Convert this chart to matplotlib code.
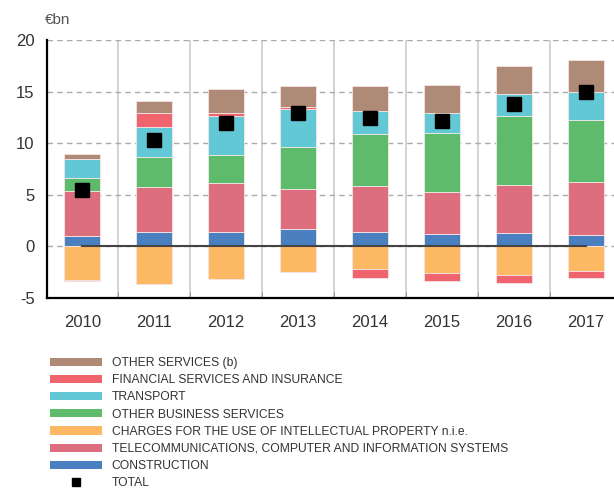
import numpy as np
import matplotlib
matplotlib.use("Agg")
import matplotlib.pyplot as plt
from matplotlib.patches import Patch
from matplotlib.lines import Line2D

years = ["2010", "2011", "2012", "2013", "2014", "2015", "2016", "2017"]

construction = [1.03, 1.35, 1.35, 1.65, 1.35, 1.16, 1.29, 1.10]
telecom = [4.29, 4.39, 4.84, 3.87, 4.52, 4.07, 4.68, 5.13]
other_business = [1.35, 2.97, 2.71, 4.16, 5.00, 5.74, 6.71, 6.03]
intellectual = [-3.30, -3.65, -3.16, -2.48, -2.19, -2.61, -2.77, -2.39]
transport = [1.84, 2.84, 3.75, 3.65, 2.29, 1.94, 2.10, 2.74]
financial = [-0.05, 1.35, 0.26, 0.16, -0.87, -0.71, -0.74, -0.71]
other_services = [0.42, 1.20, 2.32, 2.03, 2.39, 2.71, 2.71, 3.10]
total = [5.48, 10.32, 11.97, 12.94, 12.48, 12.19, 13.81, 14.97]

names = ["CONSTRUCTION",
         "TELECOMMUNICATIONS, COMPUTER AND INFORMATION SYSTEMS",
         "OTHER BUSINESS SERVICES",
         "CHARGES FOR THE USE OF INTELLECTUAL PROPERTY n.i.e.",
         "TRANSPORT",
         "FINANCIAL SERVICES AND INSURANCE",
         "OTHER SERVICES (b)"]
series = [construction, telecom, other_business, intellectual,
          transport, financial, other_services]
colors = ["#4a7fc0", "#dc6e7e", "#5dbb6b", "#fdb864",
          "#62c8d5", "#f0646e", "#af8a77"]

plt.rcParams['font.family'] = ['Liberation Sans', 'DejaVu Sans']

fig = plt.figure(figsize=(6.14, 4.88), dpi=100)
ax = fig.add_axes([47/614, 1-298/488, 567/614, 258/488])

x = np.arange(len(years))
pos = np.zeros(len(years))
neg = np.zeros(len(years))
for vals, c in zip(series, colors):
    v = np.array(vals)
    bottom = np.where(v >= 0, pos, neg)
    ax.bar(x, v, width=0.5, bottom=bottom, color=c, edgecolor="#f4e6e6",
           linewidth=0.6, zorder=3)
    pos = pos + np.where(v >= 0, v, 0)
    neg = neg + np.where(v < 0, v, 0)

# zero line only spans the bars
ax.plot(x, np.zeros(len(years)), color="#444444", lw=1.5, zorder=4)
ax.plot(x, total, "s", color="black", ms=9.5, zorder=5)

ax.set_xlim(-0.49, 7.39)
ax.set_ylim(-5, 20)
ax.set_yticks([-5, 0, 5, 10, 15, 20])
ax.set_yticklabels(["-5", "0", "5", "10", "15", "20"])
ax.set_xticks(x)
ax.set_xticklabels(years)
ax.tick_params(axis="both", length=0, labelsize=12, colors="#333333")
ax.tick_params(axis="y", pad=9)
ax.tick_params(axis="x", pad=12)
ax.set_xticks(np.arange(0.5, 7.5, 1), minor=True)
ax.tick_params(axis="x", which="minor", length=4, direction="in", color="#888888")
ax.grid(axis="y", color="#aaaaaa", linestyle=(0, (4, 3)), lw=1, zorder=0)
ax.grid(axis="x", which="minor", color="#cccccc", lw=1.2, zorder=0)

for s in ["top", "right"]:
    ax.spines[s].set_visible(False)
ax.spines["left"].set_linewidth(1.6)
ax.spines["bottom"].set_linewidth(1.6)

fig.text(45/614, 1-20/488, "€bn", fontsize=11, color="#555555", va="center", ha="left")

order = [6, 5, 4, 2, 3, 1, 0]
handles = [Patch(facecolor=colors[i]) for i in order]
labels = [names[i] for i in order]
handles.append(Line2D([], [], marker="s", color="black", ls="none", ms=5.5))
labels.append("TOTAL")
fig.legend(handles, labels, loc="upper left", bbox_to_anchor=(50/614, 1-357/488),
           frameon=False, prop={"size": 8.7}, handlelength=4.3,
           handleheight=0.66, labelspacing=0.43, handletextpad=0.8,
           borderaxespad=0, borderpad=0, labelcolor="#333333")

fig.savefig("out.png", dpi=100)
